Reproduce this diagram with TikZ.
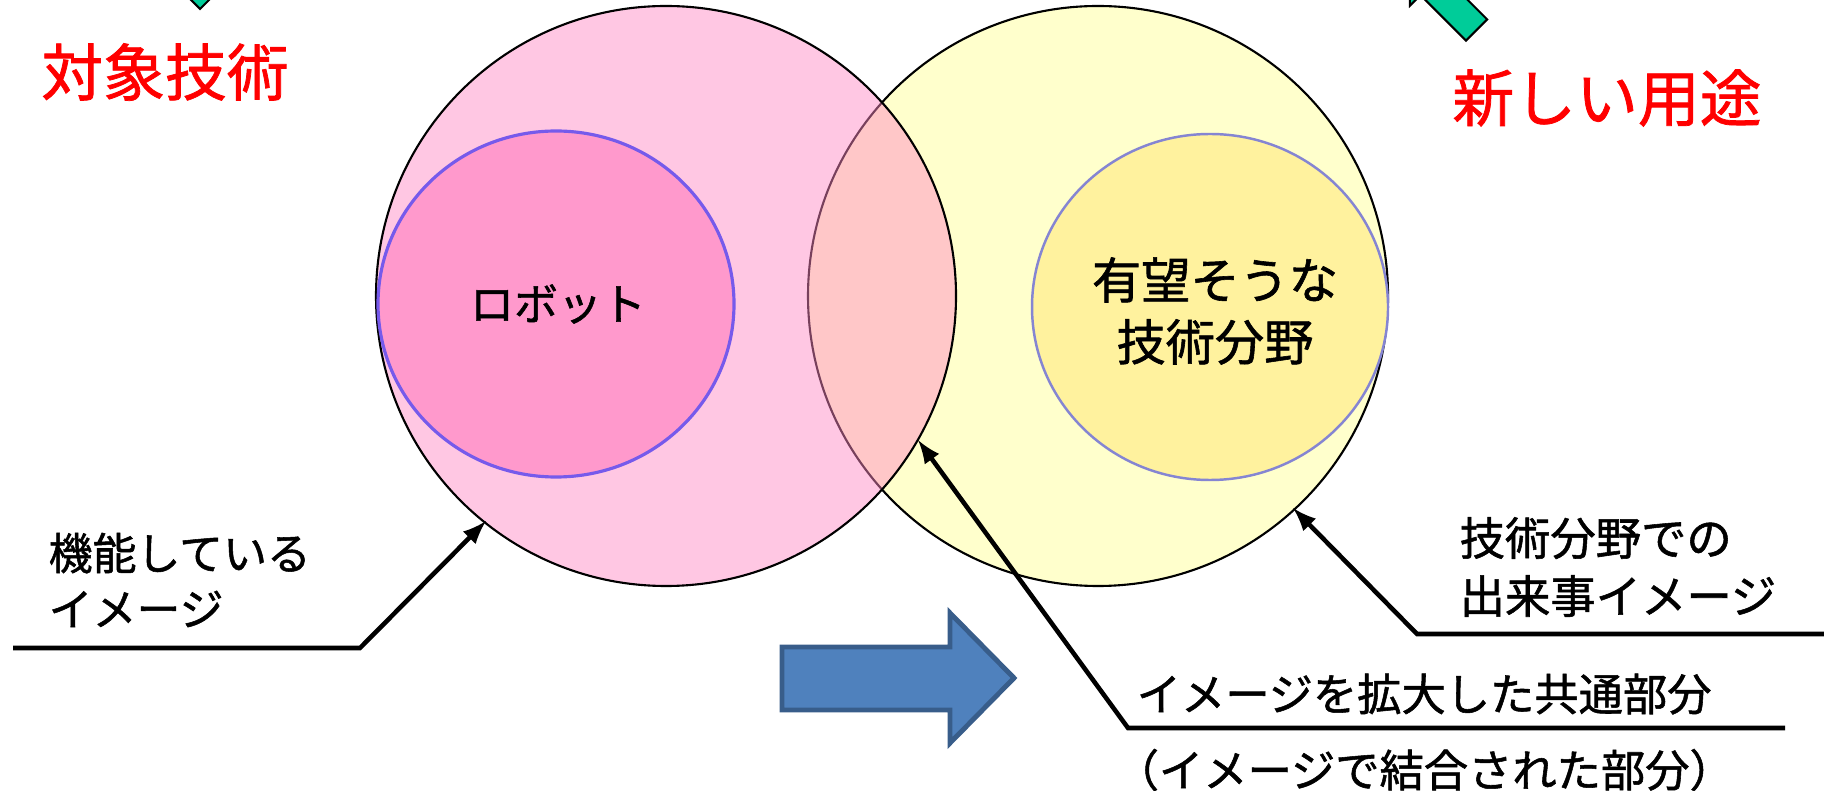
\documentclass[tikz,border=0pt]{standalone}
\usepackage{fontspec}
\usepackage{xcolor}
\usetikzlibrary{arrows}
\usetikzlibrary{math}
\newfontfamily\jpfont[FakeBold=1.2]{Noto Sans CJK JP}
\definecolor{qpink}{RGB}{255,136,196}
\definecolor{qrose}{RGB}{255,153,204}
\definecolor{qyellow}{RGB}{255,255,204}
\definecolor{qgold}{RGB}{255,242,158}
\definecolor{qviolet}{RGB}{118,90,235}
\definecolor{qlav}{RGB}{133,133,210}
\definecolor{qgreen}{RGB}{0,204,153}
\definecolor{qblue}{RGB}{79,129,189}
\definecolor{qnavy}{RGB}{56,93,138}
\definecolor{qred}{RGB}{255,0,0}
\tikzset{
  callout/.style={line width=1.3pt,-latex},
  redlabel/.style={text=qred,inner sep=0pt,font=\jpfont\fontsize{17.6}{21}\selectfont},
  blacklabel/.style={inner sep=0pt,align=left,anchor=west}
}

\begin{document}
\begin{tikzpicture}[x=0.1mm,y=-0.1mm,font=\jpfont]

\tikzmath{
\R = 290; %outer circles
\cy = 296;
\xa = 666; %x of left circle
\xb = 1098; %x of right circle
\rx = 178; %inner ellipses
\ry = 173;
}

\useasboundingbox (0,0) rectangle (1824,791);
\clip (0,0) rectangle (1824,791);

\coordinate (cL) at (\xa,\cy);
\coordinate (cR) at (\xb,\cy);

%circles:
\draw[line width=0.6pt,fill=qyellow] (cR) circle(\R);
\fill[qpink,opacity=0.47] (cL) circle(\R);
\draw[line width=0.6pt] (cL) circle(\R);
\draw[line width=0.9pt,draw=qviolet,fill=qrose] (556,304) ellipse({\rx} and {\ry});
\draw[line width=0.7pt,draw=qlav,fill=qgold] (1210,307) ellipse({\rx} and {\ry});

\node[inner sep=0pt,font=\jpfont\fontsize{12.5}{15}\selectfont] (robot) at (558,304) {ロボット};
\node[inner sep=0pt,align=center,font=\jpfont\fontsize{14}{17.6}\selectfont] (field) at (1215,311) {有望そうな\\技術分野};

%titles
\node[redlabel] (tgt) at (165,72) {対象技術};
\node[redlabel] (use) at (1607,98) {新しい用途};

%green arrows, cut by the frame
\draw[fill=qgreen,line width=0.6pt] (200,9) -- (230,-21) -- (215,-21) -- (215,-100)
  -- (185,-100) -- (185,-21) -- (170,-21) -- cycle;
\draw[fill=qgreen,line width=0.6pt] (1465.9,40.6) -- (1420.4,-4.9) -- (1409.8,5.7)
  -- (1409.8,-36.7) -- (1452.2,-36.7) -- (1441.6,-26.1) -- (1487.1,19.4) -- cycle;

%labels
\node[blacklabel,font=\jpfont\fontsize{12.5}{15.9}\selectfont] (lblL) at (48,580) {機能している\\イメージ};
\node[blacklabel,font=\jpfont\fontsize{12.9}{16.5}\selectfont] (lblR) at (1459,567) {技術分野での\\出来事イメージ};
\node[blacklabel,font=\jpfont\fontsize{12.6}{15}\selectfont] (lblM) at (1136,694) {イメージを拡大した共通部分};
\node[blacklabel,font=\jpfont\fontsize{12.6}{15}\selectfont] (lblM2) at (1114,770) {（イメージで結合された部分）};

%callouts
\coordinate (endL) at (13,648);
\coordinate (bendL) at (360,648);
\coordinate (tipL) at (486,521);
\coordinate (endR) at (1824,634);
\coordinate (bendR) at (1417,634);
\coordinate (tipR) at (1293,508);
\coordinate (endM) at (1785,728);
\coordinate (bendM) at (1128,728);
\coordinate (tipM) at (918,440);
\draw[callout] (endL) -- (bendL) -- (tipL);
\draw[callout] (endR) -- (bendR) -- (tipR);
\draw[callout] (endM) -- (bendM) -- (tipM);

%blue arrow
\draw[fill=qblue,draw=qnavy,line width=1.4pt] (782,647) -- (950,647) -- (950,613) -- (1014,678)
  -- (950,743) -- (950,710) -- (782,710) -- cycle;

\end{tikzpicture}
\end{document}
